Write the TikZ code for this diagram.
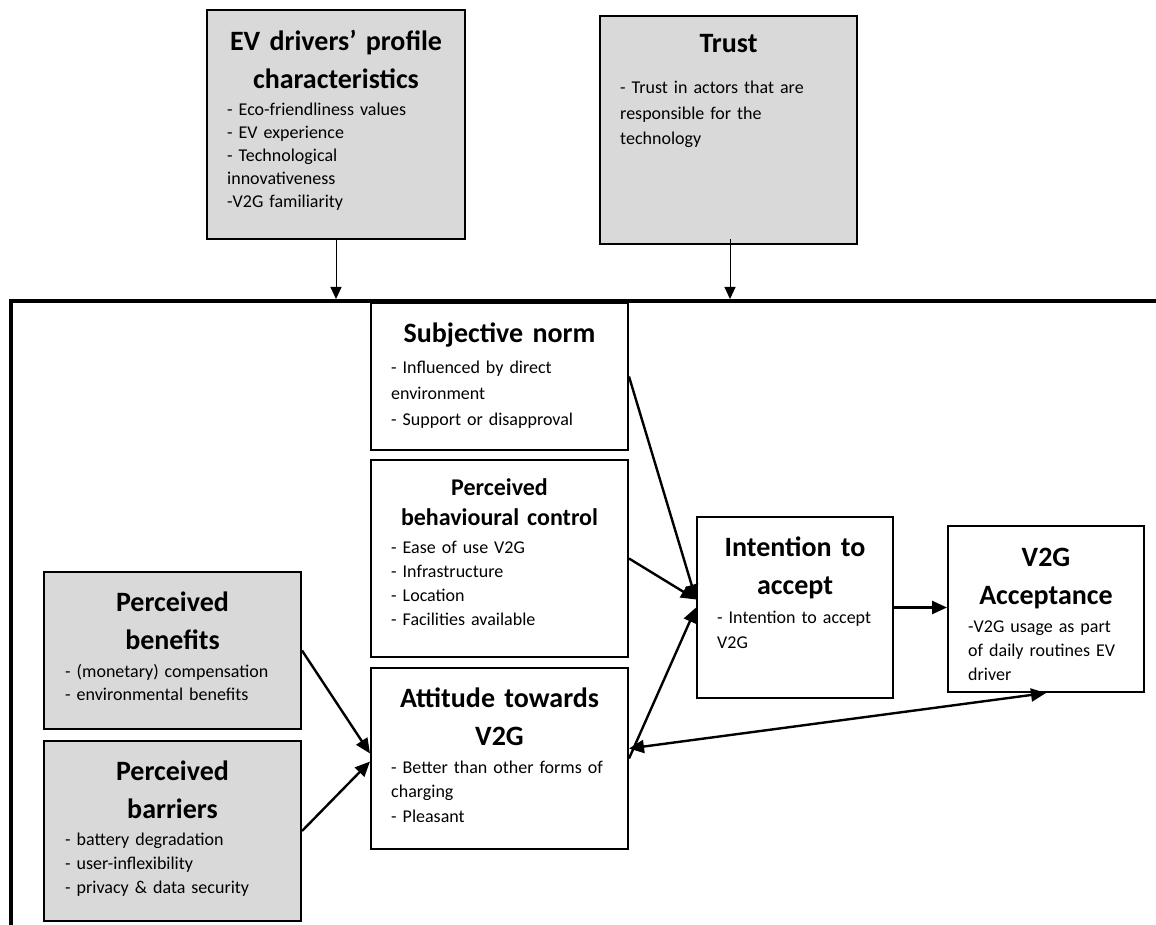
\documentclass[tikz,border=0pt]{standalone}
\usepackage{fontspec}
\setmainfont{Carlito}
\usetikzlibrary{arrows.meta}
\definecolor{boxgrey}{HTML}{D9D9D9}
\begin{document}
\begin{tikzpicture}[x=1pt,y=-1pt,
  box/.style={draw=black, line width=2pt, rectangle, inner sep=0pt},
  greybox/.style={box, fill=boxgrey},
  ttl/.style={inner sep=0pt, text width=#1, align=center, anchor=base,
    font=\bfseries\fontsize{28}{38}\selectfont},
  ttlsmall/.style={inner sep=0pt, text width=#1, align=center, anchor=base,
    font=\bfseries\fontsize{24}{30}\selectfont},
  body/.style n args={2}{inner sep=0pt, text width=230pt, align=left, anchor=base west,
    font=\fontsize{#1}{#2}\selectfont},
  thinarrow/.style={line width=1pt, -{Triangle[length=12pt,width=11pt]}},
  conn/.style={line width=2.4pt, -{Triangle[length=15pt,width=13pt]}},
  dconn/.style={line width=2.4pt, {Triangle[length=15pt,width=13pt]}-{Triangle[length=15pt,width=13pt]}}
]
\useasboundingbox (0,0) rectangle (1156,925);

% outer frame
\draw[line width=4pt] (11,930) -- (11,301) -- (1165,301);

% boxes
\node[greybox, minimum width=258pt, minimum height=229pt] (ev) at (336,124.5) {};
\node[greybox, minimum width=257pt, minimum height=228pt] (trust) at (728.5,130) {};
\node[box, minimum width=257pt, minimum height=147pt] (sn) at (499.5,376.5) {};
\node[box, minimum width=257pt, minimum height=197pt] (pbc) at (499.5,558.5) {};
\node[box, minimum width=257pt, minimum height=181pt] (att) at (499.5,758.5) {};
\node[box, minimum width=196pt, minimum height=181pt] (int) at (795,607.5) {};
\node[box, minimum width=196pt, minimum height=166pt] (v2g) at (1046,609) {};
\node[greybox, minimum width=257pt, minimum height=157pt] (ben) at (172.5,650.5) {};
\node[greybox, minimum width=257pt, minimum height=180pt] (bar) at (172.5,831) {};

% texts
\node[ttl=240pt] (evT) at (336,51) {EV drivers’ profile\\characteristics};
\node[body={18}{23}] (evB) at (227,116) {- Eco-friendliness values\\- EV experience\\- Technological\\innovativeness\\-V2G familiarity};

\node[ttl=240pt] (trT) at (728.5,53) {Trust};
\node[body={18}{25.5}] (trB) at (620,94) {- Trust in actors that are\\responsible for the\\technology};

\node[ttl=240pt] (snT) at (499.5,342) {Subjective norm};
\node[body={18}{26}] (snB) at (391,373) {- Influenced by direct\\environment\\- Support or disapproval};

\node[ttlsmall=240pt] (pbcT) at (499.5,495) {Perceived\\behavioural control};
\node[body={18}{24}] (pbcB) at (391,553) {- Ease of use V2G\\- Infrastructure\\- Location\\- Facilities available};

\node[ttl=240pt] (benT) at (172.5,611) {Perceived\\benefits};
\node[body={18}{23.5}] (benB) at (65,677) {- (monetary) compensation\\- environmental benefits};

\node[ttl=240pt] (barT) at (172.5,780) {Perceived\\barriers};
\node[body={18}{24}] (barB) at (65,845) {- battery degradation\\- user-inflexibility\\- privacy \& data security};

\node[ttl=240pt] (attT) at (499.5,707) {Attitude towards\\V2G};
\node[body={18}{24.5}] (attB) at (391,773) {- Better than other forms of\\charging\\- Pleasant};

\node[ttl=190pt] (intT) at (795,556) {Intention to\\accept};
\node[body={18}{25}] (intB) at (717,623) {- Intention to accept\\V2G};

\node[ttl=190pt] (v2gT) at (1046,566) {V2G\\Acceptance};
\node[body={18}{24}] (v2gB) at (968,632) {-V2G usage as part\\of daily routines EV\\driver};

% connectors
\coordinate (evIn) at (336,299);
\coordinate (trIn) at (730,299);
\draw[thinarrow] (ev.south) -- (evIn);
\draw[thinarrow] ([xshift=1.5pt,yshift=6pt]trust.south) -- (trIn);

\draw[conn] (sn.east) -- ([yshift=8pt]int.west);
\draw[conn] (pbc.east) -- ([yshift=8pt]int.west);
\draw[conn] (att.east) -- (int.west);
\draw[conn] (int.east) -- (int.east -| v2g.west);
\draw[dconn] ([yshift=10pt]att.east) -- (v2g.south);
\draw[conn] (ben.east) -- ([yshift=5pt]att.west);
\draw[conn] (bar.east) -- ([yshift=-3pt]att.west);
\end{tikzpicture}
\end{document}
